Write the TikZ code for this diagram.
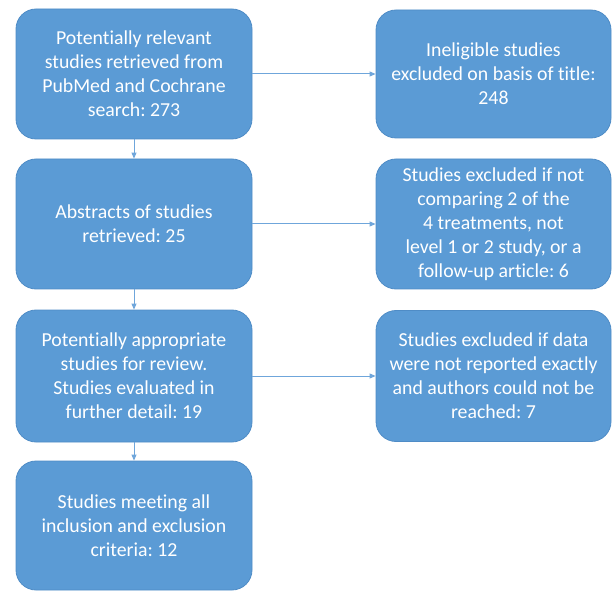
\documentclass[tikz,border=0pt]{standalone}
\usepackage{fontspec}
\setmainfont[Ligatures=NoCommon]{Carlito}
\frenchspacing
\usetikzlibrary{arrows.meta}
\definecolor{boxblue}{HTML}{5B9BD5}
\definecolor{boxedge}{HTML}{4F8CC6}
\definecolor{linkblue}{HTML}{6FA6DB}
\begin{document}
\begin{tikzpicture}[x=1pt,y=-1pt,
  flowbox/.style={draw=boxedge, line width=0.8pt, fill=boxblue, rounded corners=20pt,
    text=white, align=center, inner sep=0pt,
    font=\fontsize{19.8}{24}\selectfont},
  link/.style={draw=linkblue, line width=1pt, -{Triangle[length=6pt,width=5pt]}}]
\useasboundingbox (0,0) rectangle (614,591);
\node[flowbox, minimum width=236pt, minimum height=130pt] (a) at (134,74)
  {Potentially relevant\\studies retrieved from\\PubMed and Cochrane\\search: 273};
\node[flowbox, minimum width=236pt, minimum height=130pt] (b) at (134,224)
  {Abstracts of studies\\retrieved: 25};
\node[flowbox, minimum width=236pt, minimum height=132pt] (c) at (134,376)
  {Potentially appropriate\\studies for review.\\Studies evaluated in\\further detail: 19};
\node[flowbox, minimum width=236pt, minimum height=129pt] (d) at (134,525.5)
  {Studies meeting all\\inclusion and exclusion\\criteria: 12};
\node[flowbox, minimum width=235pt, minimum height=128pt] (e) at (493.5,74)
  {Ineligible studies\\excluded on basis of title:\\248};
\node[flowbox, minimum width=235pt, minimum height=130pt] (f) at (493.5,224)
  {Studies excluded if not\\comparing 2 of the\hspace*{26pt}\\4 treatments, not\hspace*{26pt}\\level 1 or 2 study, or a\\follow-up article: 6};
\node[flowbox, minimum width=235pt, minimum height=131pt] (g) at (493.5,376)
  {Studies excluded if data\\were not reported exactly\\and authors could not be\\reached: 7};
\draw[link] (a) -- (b);
\draw[link] (b) -- (c);
\draw[link] (c) -- (d);
\draw[link] (a) -- (e);
\draw[link] (b) -- (f);
\draw[link] (c) -- (g);
\end{tikzpicture}
\end{document}
